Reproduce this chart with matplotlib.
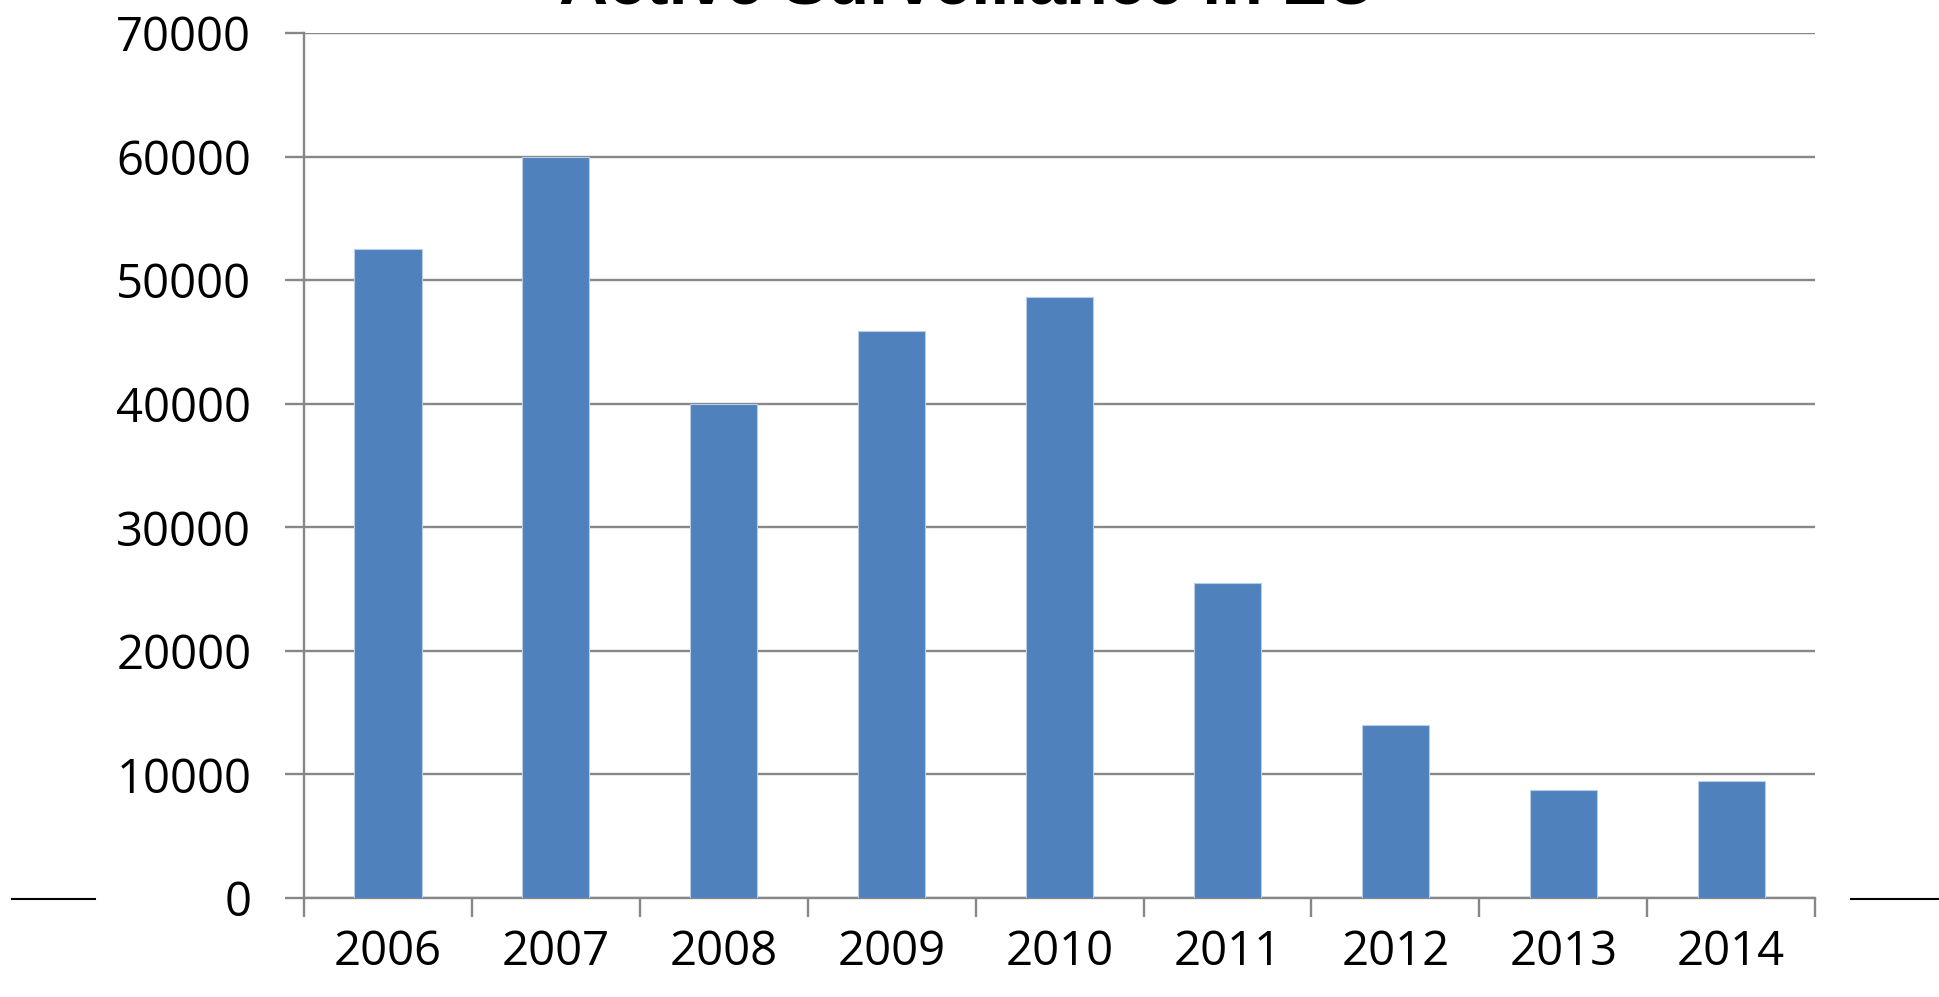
import numpy as np
import matplotlib
matplotlib.use('Agg')
import matplotlib.pyplot as plt
from matplotlib.lines import Line2D

# Active Surveillance in EU, cases per year
years = ['2006', '2007', '2008', '2009', '2010', '2011', '2012', '2013', '2014']
cases = [52500, 60000, 40000, 45900, 48600, 25500, 14000, 8750, 9450]
yticks = [0, 10000, 20000, 30000, 40000, 50000, 60000, 70000]

plt.rcParams['font.family'] = ['Open Sans', 'DejaVu Sans']
grey = '#878787'

fig = plt.figure(figsize=(19.39, 9.97), dpi=100)
ax = fig.add_axes([0.1568, 0.0993, 0.7793, 0.8676])

x = np.arange(len(years))
ax.bar(x, cases, width=0.4, color='#4F81BD', edgecolor='#B9CDE5', linewidth=0.8, zorder=3)

ax.set_xlim(-0.5, len(years) - 0.5)
ax.set_ylim(0, 70000)
ax.set_yticks(yticks)
ax.set_yticklabels([str(v) for v in yticks])
ax.yaxis.grid(True, color=grey, linewidth=1.7, zorder=0)

# category boundary ticks, labels centred on the bars
ax.set_xticks(np.arange(len(years) + 1) - 0.5)
ax.set_xticklabels([])
ax.set_xticks(x, minor=True)
ax.set_xticklabels(years, minor=True)
ax.tick_params(axis='x', which='major', length=14, width=1.7, color=grey, direction='out')
ax.tick_params(axis='x', which='minor', length=0, pad=22, labelsize=34)
ax.tick_params(axis='y', length=14, width=1.7, color=grey, pad=24, labelsize=34)

for s in ['top', 'right']:
    ax.spines[s].set_visible(False)
for s in ['left', 'bottom']:
    ax.spines[s].set_color(grey)
    ax.spines[s].set_linewidth(1.7)

fig.text(0.499, 0.982, 'Active Surveillance in EU', ha='center', va='bottom',
         fontsize=49, fontweight='bold', family=['Liberation Sans', 'DejaVu Sans'])

# short black rules at both sides
fig.add_artist(Line2D([12 / 1939, 95 / 1939], [98 / 997, 98 / 997], color='black', linewidth=1.5))
fig.add_artist(Line2D([1851 / 1939, 1.0], [98 / 997, 98 / 997], color='black', linewidth=1.5))

fig.savefig('out.png', dpi=100)
